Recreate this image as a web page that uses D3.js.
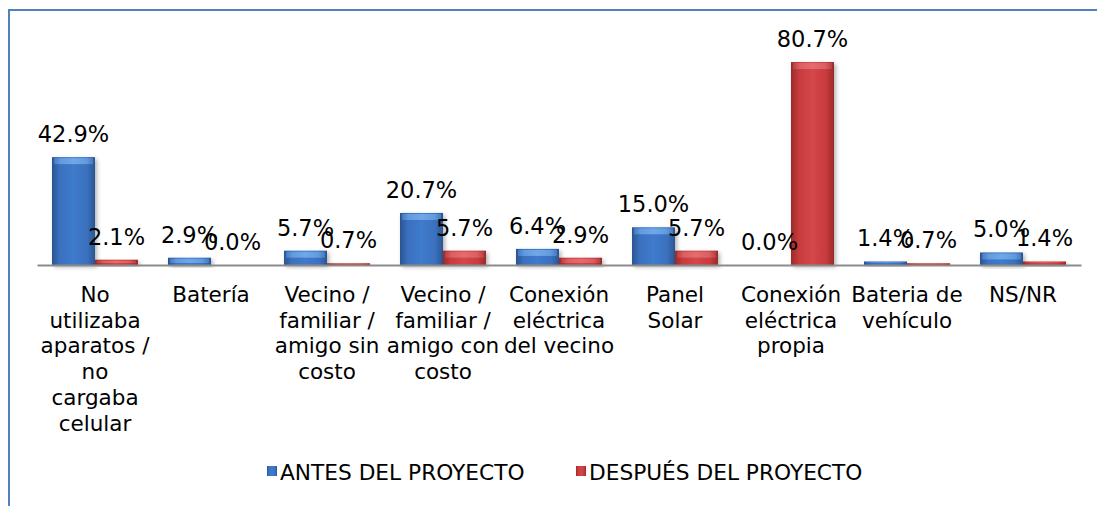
<!DOCTYPE html>
<html>
<head>
<meta charset="utf-8">
<script src="https://cdn.jsdelivr.net/npm/d3@7"></script>
<style>
  body { margin: 0; background: #fff; }
  svg { display: block; font-family: "DejaVu Sans", Verdana, sans-serif; }
</style>
</head>
<body>
<svg width="1097" height="506"></svg>
<script>
// data
var categories = [
  "No utilizaba aparatos / no cargaba celular",
  "Batería",
  "Vecino / familiar / amigo sin costo",
  "Vecino / familiar / amigo con costo",
  "Conexión eléctrica del vecino",
  "Panel Solar",
  "Conexión eléctrica propia",
  "Bateria de vehículo",
  "NS/NR"
];
var antes   = [42.9, 2.9, 5.7, 20.7, 6.4, 15.0, 0.0, 1.4, 5.0];
var despues = [2.1, 0.0, 0.7, 5.7, 2.9, 5.7, 80.7, 0.7, 1.4];
var seriesNames = ["ANTES DEL PROYECTO", "DESPUÉS DEL PROYECTO"];

var svg = d3.select("svg"),
    width = +svg.attr("width"),
    height = +svg.attr("height");

var axisY = 265;

var x = d3.scaleBand()
    .domain(categories)
    .range([37, 1081])
    .paddingInner(0)
    .paddingOuter(0);

var xs = d3.scaleBand()
    .domain(["antes", "despues"])
    .range([0, x.bandwidth()])
    .paddingOuter(0.349)
    .paddingInner(0);

var y = d3.scaleLinear()
    .domain([0, 100])
    .range([axisY, axisY - 251.5]);

// gradients for the bevelled bars
var defs = svg.append("defs");
function grad(id, c0, c1, c2) {
  var g = defs.append("linearGradient").attr("id", id)
      .attr("x1", "0%").attr("x2", "100%").attr("y1", "0%").attr("y2", "0%");
  g.append("stop").attr("offset", "0%").attr("stop-color", c0);
  g.append("stop").attr("offset", "18%").attr("stop-color", c1);
  g.append("stop").attr("offset", "50%").attr("stop-color", c2);
  g.append("stop").attr("offset", "82%").attr("stop-color", c1);
  g.append("stop").attr("offset", "100%").attr("stop-color", c0);
}
grad("gBlue", "#2a5592", "#3a70be", "#3f7bcc");
grad("gRed", "#9a2a2a", "#c83a3c", "#d4474a");
grad("gBlueTop", "#4a80c8", "#6aa3e4", "#78b0ec");
grad("gRedTop", "#b84446", "#e06668", "#e87274");

var shadow = defs.append("filter").attr("id", "shadow")
    .attr("x", "-20%").attr("y", "-20%").attr("width", "150%").attr("height", "150%");
shadow.append("feDropShadow").attr("dx", 2).attr("dy", 2)
    .attr("stdDeviation", 2).attr("flood-color", "#000").attr("flood-opacity", 0.3);

// frame lines
svg.append("line").attr("x1", 8).attr("x2", width).attr("y1", 10).attr("y2", 10)
    .attr("stroke", "#4f81bd").attr("stroke-width", 2);
svg.append("line").attr("x1", 9).attr("x2", 9).attr("y1", 9).attr("y2", height)
    .attr("stroke", "#4f81bd").attr("stroke-width", 2);

var rows = categories.map(function(c, i) {
  return [
    { cat: c, key: "antes", v: antes[i], fill: "url(#gBlue)", top: "url(#gBlueTop)" },
    { cat: c, key: "despues", v: despues[i], fill: "url(#gRed)", top: "url(#gRedTop)" }
  ];
});
var bars = [].concat.apply([], rows);

// bars
var bar = svg.append("g").selectAll("g")
    .data(bars)
    .enter().append("g")
    .attr("transform", function(d) { return "translate(" + (x(d.cat) + xs(d.key)) + ",0)"; });

bar.append("rect")
    .attr("x", 0)
    .attr("y", function(d) { return y(d.v); })
    .attr("width", xs.bandwidth())
    .attr("height", function(d) { return axisY - y(d.v); })
    .attr("fill", function(d) { return d.fill; })
    .attr("filter", function(d) { return d.v > 0 ? "url(#shadow)" : null; });

bar.append("rect")
    .attr("x", 2)
    .attr("y", function(d) { return y(d.v) + 1; })
    .attr("width", xs.bandwidth() - 4)
    .attr("height", function(d) { return Math.max(0, Math.min(6, axisY - y(d.v) - 3)); })
    .attr("fill", function(d) { return d.top; })
    .attr("opacity", 0.85);

// axis
var xAxis = svg.append("g")
    .attr("transform", "translate(0," + axisY + ")")
    .call(d3.axisBottom(x).tickSize(0).tickPadding(0));
xAxis.select(".domain").attr("stroke", "#8c8c8c").attr("stroke-width", 2);
xAxis.selectAll(".tick text")
    .attr("font-size", 21.5)
    .attr("font-family", "DejaVu Sans, Verdana, sans-serif")
    .attr("fill", "#000")
    .call(wrap, 115);

function wrap(text, w) {
  text.each(function() {
    var t = d3.select(this),
        words = t.text().split(/\s+/),
        line = [],
        lines = [];
    t.text(null);
    var probe = t.append("tspan");
    words.forEach(function(word) {
      line.push(word);
      probe.text(line.join(" "));
      if (probe.node().getComputedTextLength() > w && line.length > 1) {
        line.pop();
        lines.push(line.join(" "));
        line = [word];
      }
    });
    lines.push(line.join(" "));
    probe.remove();
    t.attr("y", 0).attr("dy", null);
    lines.forEach(function(l, i) {
      t.append("tspan").attr("x", 0).attr("y", 37 + i * 25.7).text(l);
    });
  });
}

// data labels
svg.append("g").selectAll("text")
    .data(bars)
    .enter().append("text")
    .attr("x", function(d) { return x(d.cat) + xs(d.key) + xs.bandwidth() / 2; })
    .attr("y", function(d) { return y(d.v) - 15; })
    .attr("text-anchor", "middle")
    .attr("font-size", 22.5)
    .attr("fill", "#000")
    .text(function(d) { return d.v.toFixed(1) + "%"; });

// legend
var legend = svg.append("g").attr("transform", "translate(0,480)");
var legendX = [267, 576];
var legendFill = ["url(#gBlue)", "url(#gRed)"];
seriesNames.forEach(function(name, i) {
  legend.append("rect")
      .attr("x", legendX[i]).attr("y", -14)
      .attr("width", 10).attr("height", 10)
      .attr("fill", legendFill[i]);
  legend.append("text")
      .attr("x", legendX[i] + 13).attr("y", 0)
      .attr("font-size", 21.7)
      .attr("fill", "#000")
      .text(name);
});
</script>
</body>
</html>
